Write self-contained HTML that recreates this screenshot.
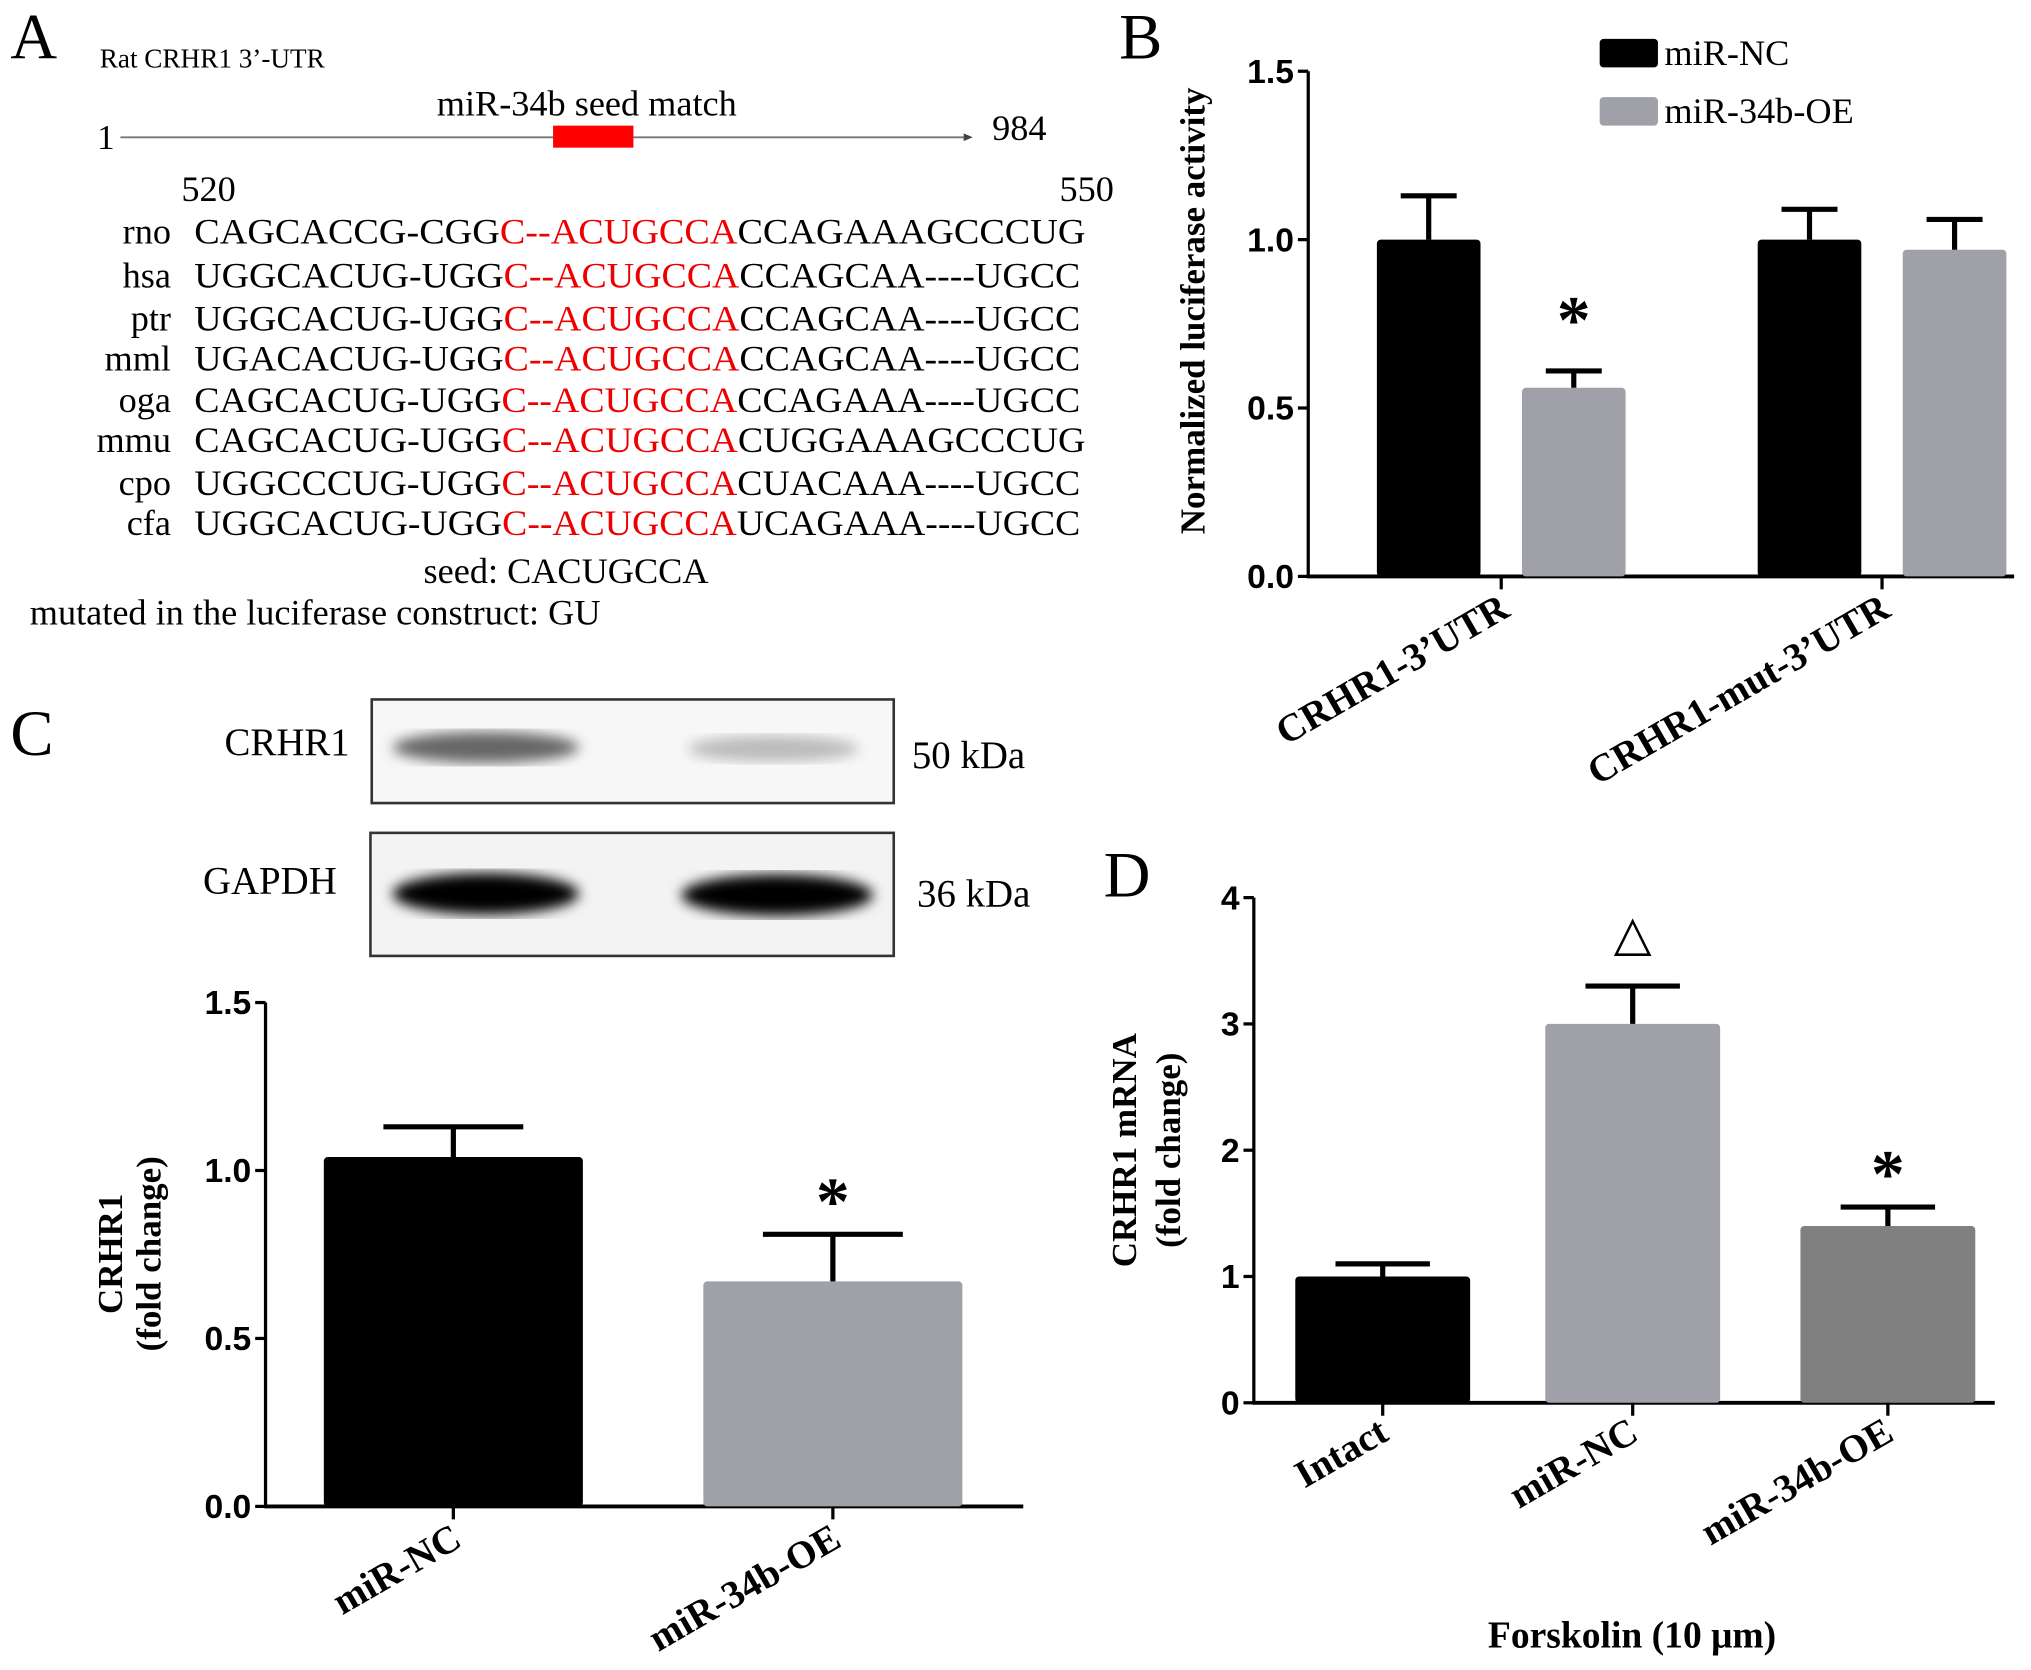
<!DOCTYPE html>
<html><head><meta charset="utf-8"><style>
html,body{margin:0;padding:0;background:#fff}
svg{display:block}
.serif{font-family:"Liberation Serif",serif}
.sans{font-family:"Liberation Sans",sans-serif}
</style></head><body>
<svg id="fig" width="2031" height="1670" viewBox="0 0 1568 1289.3" xmlns="http://www.w3.org/2000/svg">
<defs>
<filter id="blur4"><feGaussianBlur stdDeviation="5"/></filter>
<filter id="blur3"><feGaussianBlur stdDeviation="4"/></filter>
</defs>
<g class="serif">
<text x="8" y="45" font-size="50">A</text>
<text x="77" y="52" font-size="21">Rat CRHR1 3’-UTR</text>
<text x="453" y="89" font-size="28" text-anchor="middle">miR-34b seed match</text>
<text x="75" y="115" font-size="27">1</text>
<line x1="93" y1="106" x2="746" y2="106" stroke="#777" stroke-width="1.5"/>
<polygon points="744,103 751,106 744,109" fill="#444"/>
<text x="766" y="108" font-size="28">984</text>
<rect x="427" y="97" width="62" height="17" fill="#f00"/>
<text x="140" y="155" font-size="28">520</text>
<text x="818" y="155" font-size="28">550</text>
<g id="align" font-size="28"></g>
<text x="437" y="450" font-size="28" text-anchor="middle">seed: CACUGCCA</text>
<text x="23" y="482" font-size="28">mutated in the luciferase construct: GU</text>
</g>
<g id="pb">
<text x="864" y="45" font-size="50" class="serif">B</text>
<rect x="1235" y="30" width="45" height="22" rx="3" fill="#000"/>
<text x="1285" y="50" font-size="28" class="serif">miR-NC</text>
<rect x="1235" y="75" width="45" height="22" rx="3" fill="#a0a0a8"/>
<text x="1285" y="95" font-size="28" class="serif">miR-34b-OE</text>
<text transform="translate(930,240) rotate(-90)" font-size="27" font-weight="bold" text-anchor="middle" class="serif">Normalized luciferase activity</text>
</g>
<g id="pc">
<text x="8" y="583" font-size="50" class="serif">C</text>
<rect x="287" y="540" width="403" height="80" fill="#f7f7f7" stroke="#333" stroke-width="2"/>
<rect x="286" y="643" width="404" height="95" fill="#f3f3f3" stroke="#333" stroke-width="2"/>
<ellipse cx="375" cy="577" rx="72" ry="12" fill="#666" filter="url(#blur4)"/>
<ellipse cx="597" cy="578" rx="66" ry="10" fill="#bbb" filter="url(#blur4)"/>
<ellipse cx="375" cy="690" rx="72" ry="16" fill="#000" filter="url(#blur4)"/>
<ellipse cx="600" cy="691" rx="74" ry="16" fill="#000" filter="url(#blur4)"/>
<text x="270" y="583" font-size="30" text-anchor="end" class="serif">CRHR1</text>
<text x="260" y="690" font-size="30" text-anchor="end" class="serif">GAPDH</text>
<text x="704" y="593" font-size="30" class="serif">50 kDa</text>
<text x="708" y="700" font-size="30" class="serif">36 kDa</text>
<text transform="translate(94,968) rotate(-90)" font-size="27" font-weight="bold" text-anchor="middle" class="serif">CRHR1</text>
<text transform="translate(124,968) rotate(-90)" font-size="27" font-weight="bold" text-anchor="middle" class="serif">(fold change)</text>
</g>
<g id="pd">
<text x="852" y="692" font-size="50" class="serif">D</text>
<text transform="translate(877,888) rotate(-90)" font-size="27" font-weight="bold" text-anchor="middle" class="serif">CRHR1 mRNA</text>
<text transform="translate(911,888) rotate(-90)" font-size="27" font-weight="bold" text-anchor="middle" class="serif">(fold change)</text>
<text x="1260" y="1272" font-size="29" font-weight="bold" text-anchor="middle" class="serif">Forskolin (10 μm)</text>
</g>
</svg>
<script>
const species = ["rno","hsa","ptr","mml","oga","mmu","cpo","cfa"];
const seqPre = ["CAGCACCG-CGG","UGGCACUG-UGG","UGGCACUG-UGG","UGACACUG-UGG","CAGCACUG-UGG","CAGCACUG-UGG","UGGCCCUG-UGG","UGGCACUG-UGG"];
const seqSeed = "C--ACUGCCA";
const seqPost = ["CCAGAAAGCCCUG","CCAGCAA----UGCC","CCAGCAA----UGCC","CCAGCAA----UGCC","CCAGAAA----UGCC","CUGGAAAGCCCUG","CUACAAA----UGCC","UCAGAAA----UGCC"];

const bCategories = ["CRHR1-3’UTR","CRHR1-mut-3’UTR"];
const bSeriesNames = ["miR-NC","miR-34b-OE"];
const bNC = [1.0, 1.0];
const bOE = [0.56, 0.97];
const bNCerr = [0.13, 0.09];
const bOEerr = [0.05, 0.09];
const bTicks = ["0.0","0.5","1.0","1.5"];
const bTickVals = [0, 0.5, 1.0, 1.5];

const cCategories = ["miR-NC","miR-34b-OE"];
const cValues = [1.04, 0.67];
const cErr = [0.09, 0.14];
const cTicks = ["0.0","0.5","1.0","1.5"];
const cTickVals = [0, 0.5, 1.0, 1.5];

const dCategories = ["Intact","miR-NC","miR-34b-OE"];
const dValues = [1.0, 3.0, 1.4];
const dErr = [0.1, 0.3, 0.15];
const dTicks = ["0","1","2","3","4"];
const dTickVals = [0, 1, 2, 3, 4];

const NS="http://www.w3.org/2000/svg";
function mk(parent, tag, attrs, text){
  const e=document.createElementNS(NS,tag);
  for(const k in attrs) e.setAttribute(k,attrs[k]);
  if(text!==undefined) e.textContent=text;
  parent.appendChild(e); return e;
}

const al=document.getElementById('align');
const rowY=[188,222,255,286,318,349,382,413];
species.forEach((s,i)=>{
  const lab=mk(al,'text',{x:132,y:rowY[i],'text-anchor':'end'},s);
  
  
  const endX = seqPost[i].length===13 ? 838 : 834;
  const t=mk(al,'text',{x:150,y:rowY[i],textLength:endX-150,lengthAdjust:'spacingAndGlyphs'});
  
  
  mk(t,'tspan',{},seqPre[i]);
  mk(t,'tspan',{fill:'#e00'},seqSeed);
  mk(t,'tspan',{},seqPost[i]);
});

function axes(g, x0, x1, yTop, y0, vmax, ticks, tickVals, prefix){
  const Y=v=>y0-(y0-yTop)*v/vmax;
  const ya=mk(g,'line',{x1:x0,y1:yTop,x2:x0,y2:y0,stroke:'#000','stroke-width':2.5});
  
  
  const xa=mk(g,'line',{x1:x0-1,y1:y0,x2:x1,y2:y0,stroke:'#000','stroke-width':3});
  
  
  tickVals.forEach((v,i)=>{
    const tk=mk(g,'line',{x1:x0-8,y1:Y(v),x2:x0,y2:Y(v),stroke:'#000','stroke-width':2.5});
    
    
    const tl=mk(g,'text',{x:x0-11,y:Y(v)+9,'text-anchor':'end','font-size':26,'font-weight':'bold','font-family':'Liberation Sans, sans-serif'},ticks[i]);
    
    
  });
  return Y;
}
function bar(g, x, w, v, err, Y, y0, fill, name){
  const r=mk(g,'rect',{x:x,y:Y(v),width:w,height:y0-Y(v),fill:fill,rx:3});
  
  
  const cx=x+w/2, hw=w*0.27;
  const e=mk(g,'path',{d:`M${cx},${Y(v)} V${Y(v+err)} M${cx-hw},${Y(v+err)} H${cx+hw}`,stroke:'#000','stroke-width':4,fill:'none'});
  
  
  return cx;
}
function xlabel(g, x, y, txt, name){
  const t=mk(g,'text',{transform:`translate(${x},${y}) rotate(-30)`,'text-anchor':'end','font-size':30,'font-weight':'bold','font-family':'Liberation Serif, serif'},txt);
  
  
}
function xtick(g,x,y0,name){
  const t=mk(g,'line',{x1:x,y1:y0,x2:x,y2:y0+10,stroke:'#000','stroke-width':2.5});
  
  
}
function star(g,x,y,name,sym){
  const t=mk(g,'text',{x:x,y:y,'text-anchor':'middle','font-size':sym?38:52,'font-weight':sym?'normal':'bold','font-family':'Liberation Serif, DejaVu Sans, serif'},sym||'*');
  
  
}

(function(){
  const g=document.getElementById('pb');
  const x0=1010,x1=1555,yTop=55,y0=445;
  const Y=axes(g,x0,x1,yTop,y0,1.5,bTicks,bTickVals,'chart-b');
  const groupStart=[1063,1357], bw=80, gap=112;
  bCategories.forEach((c,i)=>{
    bar(g,groupStart[i],bw,bNC[i],bNCerr[i],Y,y0,'#000','bar-b-mir-nc-'+i);
    const cx=bar(g,groupStart[i]+gap,bw,bOE[i],bOEerr[i],Y,y0,'#a0a0a8','bar-b-mir-34b-oe-'+i);
    const tx=groupStart[i]+(gap+bw)/2;
    xtick(g,tx,y0,'chart-b-x-tick');
    xlabel(g,tx+8,y0+30,c,'chart-b-x-label');
    if(i===0) star(g,cx,Y(bOE[i]+bOEerr[i])-22,'significance-star-b');
  });
})();

(function(){
  const g=document.getElementById('pc');
  const x0=205,x1=790,yTop=774,y0=1163;
  const Y=axes(g,x0,x1,yTop,y0,1.5,cTicks,cTickVals,'chart-c');
  const starts=[250,543], bw=200, fills=['#000','#a0a0a8'];
  cCategories.forEach((c,i)=>{
    const cx=bar(g,starts[i],bw,cValues[i],cErr[i],Y,y0,fills[i],'bar-c-'+c.toLowerCase());
    xtick(g,cx,y0,'chart-c-x-tick');
    xlabel(g,cx+8,y0+30,c,'chart-c-x-label');
    if(i===1) star(g,cx,Y(cValues[i]+cErr[i])-8,'significance-star-c');
  });
})();

(function(){
  const g=document.getElementById('pd');
  const x0=968,x1=1540,yTop=693,y0=1083;
  const Y=axes(g,x0,x1,yTop,y0,4,dTicks,dTickVals,'chart-d');
  const starts=[1000,1193,1390], bw=135, fills=['#000','#a0a0a8','#808080'];
  dCategories.forEach((c,i)=>{
    const cx=bar(g,starts[i],bw,dValues[i],dErr[i],Y,y0,fills[i],'bar-d-'+c.toLowerCase());
    xtick(g,cx,y0,'chart-d-x-tick');
    xlabel(g,cx+6,y0+28,c,'chart-d-x-label');
    if(i===1) star(g,cx,Y(dValues[i]+dErr[i])-28,'significance-triangle-d','△');
    if(i===2) star(g,cx,Y(dValues[i]+dErr[i])-8,'significance-star-d');
  });
})();
</script>
</body></html>
